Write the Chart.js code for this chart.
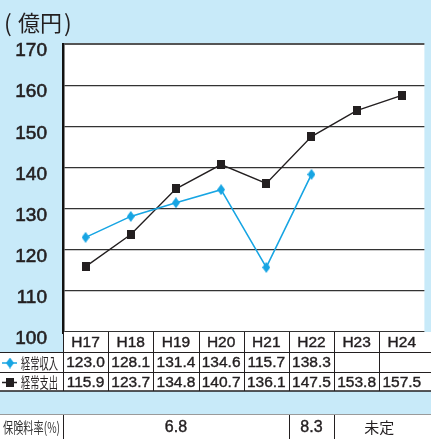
<!DOCTYPE html>
<html>
<head>
<meta charset="utf-8">
<script src="https://cdn.jsdelivr.net/npm/chart.js@4.4.1/dist/chart.umd.min.js"></script>
<style>
    html, body { margin: 0; padding: 0; background: #c8eaf9; }
    #wrap { width: 431px; height: 439px; }
</style>
</head>
<body>
<div id="wrap"><canvas id="chart"></canvas></div>
<script>
// Chart data
const years = ['H17', 'H18', 'H19', 'H20', 'H21', 'H22', 'H23', 'H24'];
const incomeValues = [123.0, 128.1, 131.4, 134.6, 115.7, 138.3, null, null];
const expenseValues = [115.9, 123.7, 134.8, 140.7, 136.1, 147.5, 153.8, 157.5];
const seriesNames = ['経常収入', '経常支出'];
const yMin = 100;
const yMax = 170;
const yStep = 10;
const unitLabel = '億円';
const rateTitle = '保険料率(%)';
const rateLabels = ['6.8', '8.3', '未定'];
const rateSpans = [[0, 4], [5, 5], [6, 7]]; // first and last year index of each cell

const BG = '#c8eaf9';
const CYAN = '#17a5e3';
const DARK = '#231f20';
const NUM_FONT = 'Arial, "Liberation Sans", sans-serif';
const JP_FONT = '"Noto Sans CJK JP", sans-serif';

// Marker images
function makeDiamond() {
    const c = document.createElement('canvas');
    c.width = 8; c.height = 11;
    const g = c.getContext('2d');
    g.fillStyle = CYAN;
    g.beginPath();
    g.moveTo(4, 0); g.lineTo(8, 5.5); g.lineTo(4, 11); g.lineTo(0, 5.5);
    g.closePath(); g.fill();
    return c;
}
function makeSquare() {
    const c = document.createElement('canvas');
    c.width = 8; c.height = 9;
    const g = c.getContext('2d');
    g.fillStyle = DARK;
    g.fillRect(0, 0, 8, 9);
    return c;
}
const diamond = makeDiamond();
const square = makeSquare();

// Text squeezed horizontally to a given width
function squeezeText(ctx, text, x, y, width) {
    const w = ctx.measureText(text).width;
    ctx.save();
    ctx.translate(x, y);
    ctx.scale(Math.min(1, width / w), 1);
    ctx.textAlign = 'left';
    ctx.fillText(text, 0, 0);
    ctx.restore();
}

// Slightly heavier numbers, like the printed table
function boldText(ctx, text, x, y) {
    ctx.fillText(text, x, y);
    ctx.strokeText(text, x, y);
}

const backgroundPlugin = {
    id: 'background',
    beforeDraw(chart) {
        const { ctx, chartArea: a } = chart;
        ctx.save();
        ctx.fillStyle = BG;
        ctx.fillRect(0, 0, chart.width, chart.height);
        ctx.fillStyle = '#fff';
        ctx.fillRect(a.left, a.top, a.right - a.left, a.bottom - a.top);
        ctx.restore();
    }
};

const tablePlugin = {
    id: 'table',
    afterDraw(chart) {
        const { ctx, chartArea: a } = chart;
        const x = chart.scales.x;
        const colW = x.getPixelForValue(1) - x.getPixelForValue(0);
        const cellLeft = i => x.getPixelForValue(i) - colW / 2;
        const rowTop = [a.bottom, a.bottom + 20, a.bottom + 40, a.bottom + 59];
        const rateTop = a.bottom + 82;
        const W = chart.width;

        ctx.save();
        // title
        ctx.fillStyle = DARK;
        ctx.textBaseline = 'middle';
        ctx.font = '23px ' + JP_FONT;
        ctx.textAlign = 'left';
        ctx.fillText('(', 4, 23);
        ctx.font = '22px ' + JP_FONT;
        ctx.fillText(unitLabel, 18, 23);
        ctx.font = '23px ' + JP_FONT;
        ctx.fillText(')', 64, 23);

        // table backgrounds
        ctx.fillStyle = '#fff';
        ctx.fillRect(a.left, rowTop[0], W - a.left, rowTop[1] - rowTop[0]);
        ctx.fillRect(0, rowTop[1], W, rowTop[3] - rowTop[1]);
        ctx.fillRect(0, rateTop, W, chart.height - rateTop);

        // grid lines
        ctx.strokeStyle = DARK;
        ctx.lineWidth = 1;
        ctx.beginPath();
        for (let i = 0; i < years.length; i++) {
            const lx = Math.round(cellLeft(i)) + 0.5;
            ctx.moveTo(lx, rowTop[0]); ctx.lineTo(lx, rowTop[3]);
        }
        ctx.moveTo(0, rowTop[1] + 0.5); ctx.lineTo(W, rowTop[1] + 0.5);
        ctx.moveTo(0, rowTop[2] + 0.5); ctx.lineTo(W, rowTop[2] + 0.5);
        ctx.stroke();
        ctx.lineWidth = 1.5;
        ctx.beginPath();
        ctx.moveTo(0, rowTop[3]); ctx.lineTo(W, rowTop[3]);
        ctx.stroke();

        ctx.strokeStyle = '#9a9a9a';
        ctx.lineWidth = 1;
        ctx.beginPath();
        ctx.moveTo(0, rateTop + 0.5); ctx.lineTo(W, rateTop + 0.5);
        ctx.stroke();
        ctx.strokeStyle = DARK;
        ctx.beginPath();
        rateSpans.forEach(s => {
            const lx = Math.round(cellLeft(s[0])) + 0.5;
            ctx.moveTo(lx, rateTop + 1); ctx.lineTo(lx, chart.height);
        });
        ctx.stroke();

        // header and values
        ctx.fillStyle = DARK;
        ctx.strokeStyle = DARK;
        ctx.lineWidth = 0.4;
        ctx.textAlign = 'center';
        ctx.font = '15.5px ' + NUM_FONT;
        const midY = r => (rowTop[r] + rowTop[r + 1]) / 2 + 1;
        years.forEach((y, i) => {
            const cx = x.getPixelForValue(i);
            boldText(ctx, y, cx, midY(0));
            if (incomeValues[i] !== null) boldText(ctx, incomeValues[i].toFixed(1), cx, midY(1));
            if (expenseValues[i] !== null) boldText(ctx, expenseValues[i].toFixed(1), cx, midY(2));
        });

        // row labels with legend markers
        ctx.font = '15px ' + JP_FONT;
        squeezeText(ctx, seriesNames[0], 21, midY(1), 37);
        squeezeText(ctx, seriesNames[1], 21, midY(2), 37);
        ctx.lineWidth = 1.5;
        ctx.strokeStyle = CYAN;
        ctx.beginPath(); ctx.moveTo(2, midY(1)); ctx.lineTo(17, midY(1)); ctx.stroke();
        ctx.drawImage(diamond, 6, midY(1) - 5.5);
        ctx.strokeStyle = DARK;
        ctx.beginPath(); ctx.moveTo(2, midY(2)); ctx.lineTo(17, midY(2)); ctx.stroke();
        ctx.drawImage(square, 6, midY(2) - 4.5);

        // insurance rate row
        const rateY = (rateTop + chart.height) / 2 + 1;
        ctx.fillStyle = '#333';
        ctx.font = '15px ' + JP_FONT;
        squeezeText(ctx, rateTitle, 3, rateY, 57);
        ctx.fillStyle = DARK;
        ctx.strokeStyle = DARK;
        ctx.lineWidth = 0.4;
        ctx.textAlign = 'center';
        rateLabels.forEach((t, k) => {
            const l = cellLeft(rateSpans[k][0]);
            const r = cellLeft(rateSpans[k][1]) + colW;
            if (/^[0-9.]+$/.test(t)) {
                ctx.font = '16px ' + NUM_FONT;
                boldText(ctx, t, (l + r) / 2, rateY);
            } else {
                ctx.font = '15px ' + JP_FONT;
                ctx.fillText(t, (l + r) / 2, rateY);
            }
        });
        ctx.restore();
    }
};

const ctx = document.getElementById('chart').getContext('2d');
const chart = new Chart(ctx, {
    type: 'line',
    data: {
        labels: years,
        datasets: [
            {
                label: seriesNames[0],
                data: incomeValues,
                borderColor: CYAN,
                borderWidth: 1.6,
                pointStyle: diamond,
                pointRadius: 5,
                spanGaps: false
            },
            {
                label: seriesNames[1],
                data: expenseValues,
                borderColor: DARK,
                borderWidth: 1.4,
                pointStyle: square,
                pointRadius: 5
            }
        ]
    },
    options: {
        responsive: true,
        maintainAspectRatio: false,
        animation: false,
        layout: { padding: { top: 44, bottom: 107, left: 0, right: 0 } },
        plugins: {
            legend: { display: false },
            tooltip: { enabled: false }
        },
        scales: {
            x: {
                display: false,
                offset: true
            },
            y: {
                min: yMin,
                max: yMax,
                afterFit: scale => { scale.width = 63; },
                ticks: {
                    stepSize: yStep,
                    padding: 16,
                    labelOffset: 7,
                    color: DARK,
                    textStrokeColor: DARK,
                    textStrokeWidth: 0.6,
                    font: { size: 19, family: NUM_FONT }
                },
                grid: {
                    drawTicks: false,
                    color: c => (c.tick && c.tick.value === yMax ? '#555' : '#333'),
                    lineWidth: c => (c.tick && c.tick.value === yMin ? 3 : (c.tick && c.tick.value === yMax ? 2 : 1.2))
                },
                border: { color: '#111', width: 2.5 }
            }
        }
    },
    plugins: [backgroundPlugin, tablePlugin]
});
</script>
</body>
</html>
